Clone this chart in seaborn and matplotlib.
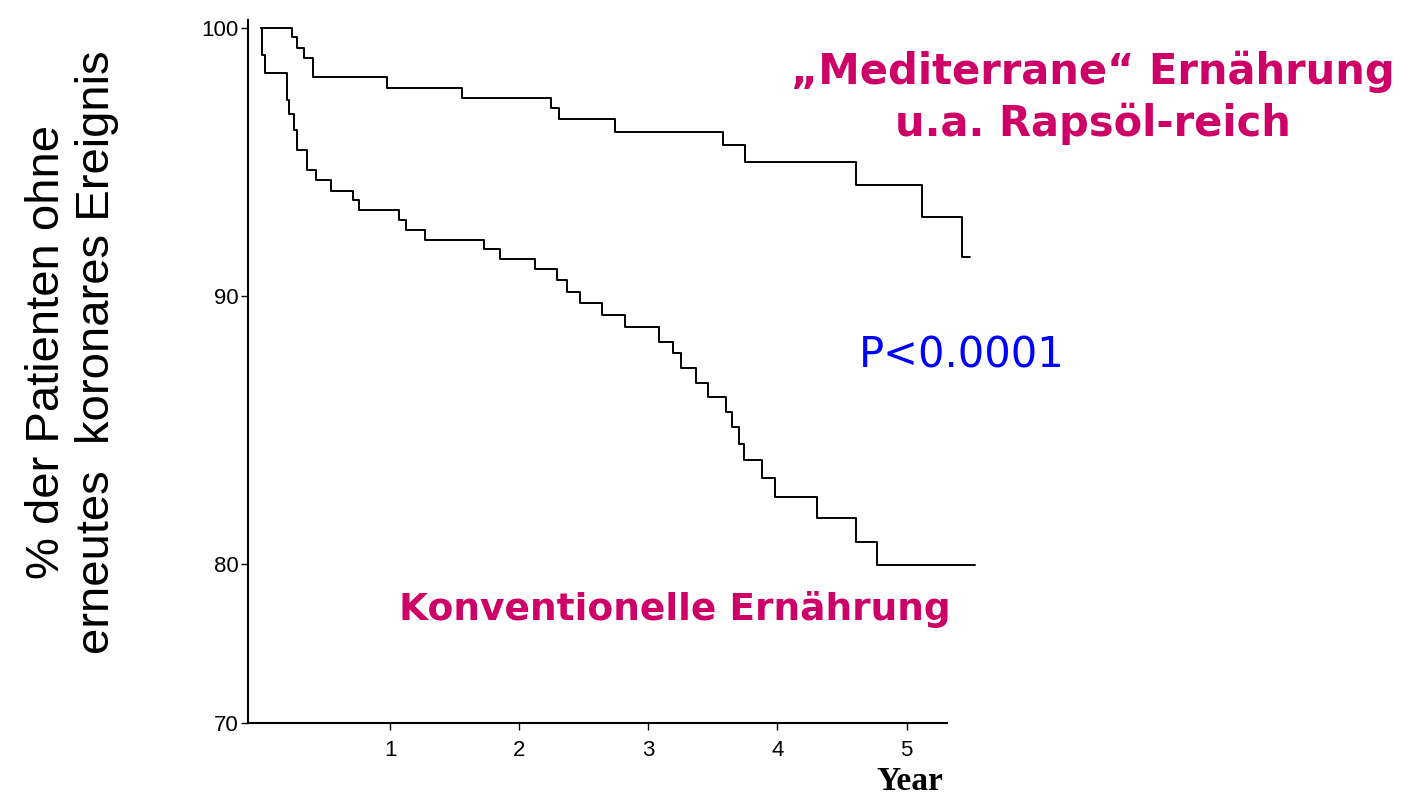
import numpy as np
import pandas as pd
import matplotlib
matplotlib.use("Agg")
import matplotlib.pyplot as plt
import seaborn as sns

# ---- data ----
med_time = [0.0, 0.24, 0.28, 0.33, 0.40, 0.98, 1.56, 2.25, 2.31, 2.74, 3.58, 3.75, 4.61, 5.12, 5.43, 5.49]
med_surv = [100.0, 99.66, 99.25, 98.88, 98.17, 97.76, 97.39, 97.01, 96.60, 96.12, 95.63, 95.00, 94.14, 92.95, 91.46, 91.46]

conv_time = [0.0, 0.01, 0.03, 0.20, 0.22, 0.26, 0.28, 0.36, 0.43, 0.54, 0.71, 0.76, 1.07, 1.12, 1.27,
             1.73, 1.85, 2.12, 2.29, 2.37, 2.47, 2.64, 2.82, 3.08, 3.19, 3.25, 3.37, 3.46, 3.60,
             3.65, 3.70, 3.74, 3.88, 3.98, 4.31, 4.61, 4.77, 5.53]
conv_surv = [100.0, 99.0, 98.32, 97.31, 96.80, 96.19, 95.45, 94.70, 94.33, 93.92, 93.58, 93.21, 92.84, 92.46, 92.09,
             91.75, 91.38, 91.01, 90.60, 90.15, 89.74, 89.29, 88.84, 88.28, 87.87, 87.31, 86.75, 86.23, 85.67,
             85.11, 84.48, 83.88, 83.21, 82.50, 81.72, 80.82, 79.93, 79.93]

groups = ["Mediterran", "Konventionell"]
y_ticks = [70, 80, 90, 100]
x_ticks = [1, 2, 3, 4, 5]

df = pd.concat([
    pd.DataFrame({"t": med_time, "s": med_surv, "g": groups[0]}),
    pd.DataFrame({"t": conv_time, "s": conv_surv, "g": groups[1]}),
])

sns.set_theme(style="white")
plt.rcParams["font.family"] = ["Liberation Sans", "DejaVu Sans"]

fig = plt.figure(figsize=(14.14, 7.98), dpi=100)
ax = fig.add_axes([0.1754, 0.0940, 0.5205, 0.8777])

# broken (compressed) axis below 80, as in the original scan
K = 0.593
def fwd(y):
    y = np.asarray(y, dtype=float)
    return np.where(y >= 80, y, 80 - (80 - y) * K)
def inv(v):
    v = np.asarray(v, dtype=float)
    return np.where(v >= 80, v, 80 - (80 - v) / K)
ax.set_yscale("function", functions=(fwd, inv))

sns.lineplot(data=df, x="t", y="s", hue="g", palette=["black", "black"],
             drawstyle="steps-post", estimator=None, sort=False, legend=False,
             linewidth=1.4, ax=ax)

ax.set_xlim(-0.1, 5.6)
ax.set_ylim(70, 100.2)
ax.set_xticks(x_ticks)
ax.set_xticklabels([str(v) for v in x_ticks])
ax.set_yticks(y_ticks)
ax.set_yticklabels([str(v) for v in y_ticks])
ax.set_xlabel("")
ax.set_ylabel("")
for s in ["top", "right"]:
    ax.spines[s].set_visible(False)
for s in ["left", "bottom"]:
    ax.spines[s].set_color("black")
    ax.spines[s].set_linewidth(1.5)
ax.spines["bottom"].set_bounds(-0.1, 5.31)
ax.spines["left"].set_bounds(70, 100.3)
ax.tick_params(axis="both", direction="out", length=5, width=1, color="black",
               labelsize=16, labelcolor="black", left=True, bottom=True)
ax.tick_params(axis="x", pad=7)
ax.tick_params(axis="y", pad=2)
ax.grid(False)

fig.text(910 / 1414, 1 - 782 / 798, "Year", ha="center", va="center",
         family=["Liberation Serif", "DejaVu Serif"], weight="bold", size=24, color="black")

fig.text(72 / 1414, 1 - 352 / 798, "% der Patienten ohne\nerneutes  koronares Ereignis",
         rotation=90, ha="center", va="center", multialignment="center",
         family=["Liberation Sans", "DejaVu Sans"],
         size=34, linespacing=1.15, color="black")

mag = "#CC0066"
fig.text(1093 / 1414, 1 - 98 / 798, "„Mediterrane“ Ernährung\nu.a. Rapsöl-reich",
         ha="center", va="center", multialignment="center",
         family=["DejaVu Sans"], weight="bold", size=30, linespacing=1.3, color=mag)
fig.text(675 / 1414, 1 - 610 / 798, "Konventionelle Ernährung",
         ha="center", va="center", family=["DejaVu Sans"], weight="bold", size=27, color=mag)
fig.text(962 / 1414, 1 - 355 / 798, "P<0.0001",
         ha="center", va="center", family=["DejaVu Sans"], size=30, color="#0000FF")

fig.savefig("out.png", dpi=100)
